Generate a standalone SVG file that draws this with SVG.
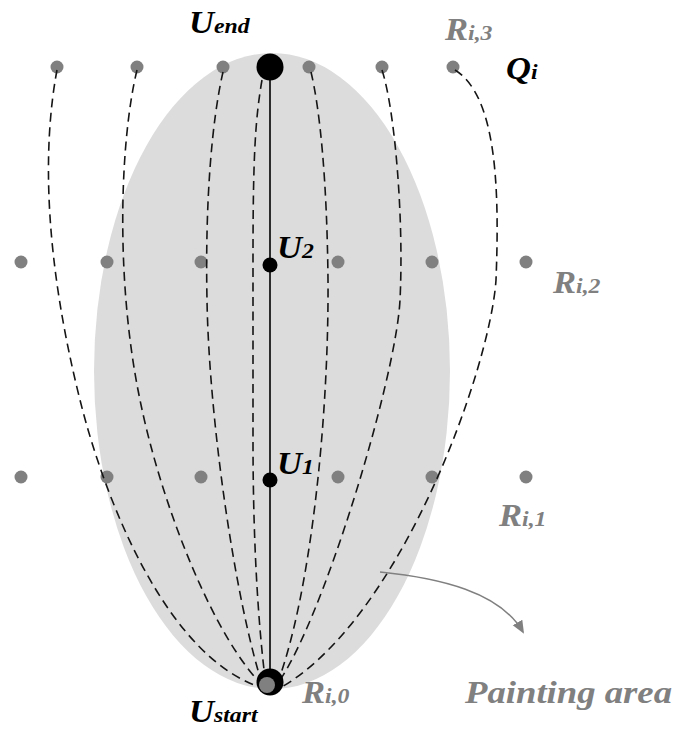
<svg xmlns="http://www.w3.org/2000/svg" width="678" height="731" viewBox="0 0 678 731">
<style>
.bg{fill:#ffffff}
.area{fill:#dcdcdc}
.g{fill:#808080}
.k{fill:#000000}
.dash{fill:none;stroke:#151515;stroke-width:1.6;stroke-dasharray:9,5.5}
.solid{fill:none;stroke:#000;stroke-width:1.6}
.arr{fill:none;stroke:#808080;stroke-width:1.4}
.lbl{font-family:"Liberation Serif","Times New Roman",serif;font-weight:bold;font-style:italic;font-size:32px}
.sub{font-size:22px}
.lk{fill:#000}
.lg{fill:#808080}
</style>
<defs>
<marker id="ah" markerWidth="14" markerHeight="12" refX="11" refY="5.5" orient="auto" markerUnits="userSpaceOnUse">
<path d="M0,0 L13,5.5 L0,11 Z" fill="#808080"/>
</marker>
</defs>
<rect class="bg" x="0" y="0" width="678" height="731"/>
<g id="painting-area"><ellipse class="area" cx="272" cy="371" rx="178" ry="318"/></g>

<g id="grid-points">
<g id="q-row3">
<circle class="g" cx="57" cy="67" r="6.5"/><circle class="g" cx="137" cy="67" r="6.5"/><circle class="g" cx="223" cy="67" r="6.5"/>
<circle class="g" cx="309" cy="67" r="6.5"/><circle class="g" cx="382" cy="67" r="6.5"/><circle class="g" cx="453" cy="67" r="6.5"/>
</g>
<g id="q-row2">
<circle class="g" cx="21" cy="262" r="6.5"/><circle class="g" cx="107" cy="262" r="6.5"/><circle class="g" cx="201" cy="262" r="6.5"/>
<circle class="g" cx="338" cy="262" r="6.5"/><circle class="g" cx="432" cy="262" r="6.5"/><circle class="g" cx="526" cy="262" r="6.5"/>
</g>
<g id="q-row1">
<circle class="g" cx="21" cy="477" r="6.5"/><circle class="g" cx="107" cy="477" r="6.5"/><circle class="g" cx="201" cy="477" r="6.5"/>
<circle class="g" cx="338" cy="477" r="6.5"/><circle class="g" cx="432" cy="477" r="6.5"/><circle class="g" cx="526" cy="477" r="6.5"/>
</g>
</g>

<g id="connectors">
<path class="dash" d="M57,70 C42,150 45,260 80,400 C107,508 170,660 263,688"/>
<path class="dash" d="M137,70 C120,140 115,280 140,400 C162,508 215,640 265,688"/>
<path class="dash" d="M223,72 C212,120 205,200 207,300 C209,420 235,600 263,687"/>
<path class="dash" d="M262,80 C255,120 253,160 253,260 L253,440 C253,560 260,640 266,686"/>
<path class="dash" d="M311,72 C320,110 327,180 328,280 C329,420 310,600 276,687"/>
<path class="dash" d="M382,70 C395,110 404,220 400,300 C396,380 320,630 275,687"/>
<path class="dash" d="M455,70 C495,95 500,180 496,280 C490,370 400,620 280,688"/>
<path class="solid" d="M270,67 L270,682"/>
<path class="arr" d="M380,572 C440,578 500,592 523,632" marker-end="url(#ah)"/>
</g>

<g id="U-end"><circle class="k" cx="270" cy="67" r="13.5"/></g>
<g id="U-2"><circle class="k" cx="270" cy="265" r="7.5"/></g>
<g id="U-1"><circle class="k" cx="270" cy="480" r="7.5"/></g>
<g id="U-start"><circle class="k" cx="270" cy="682" r="13.5"/><circle class="g" cx="267" cy="685" r="8"/></g>

<g id="labels">
<text class="lbl lk" transform="translate(189,33) scale(1.08,1)">U<tspan class="sub">end</tspan></text>
<text class="lbl lg" transform="translate(445,40) scale(1.08,1)">R<tspan class="sub">i,3</tspan></text>
<text class="lbl lk" transform="translate(506,79) scale(1.08,1)">Q<tspan class="sub">i</tspan></text>
<text class="lbl lk" transform="translate(277,258) scale(1.08,1)">U<tspan class="sub">2</tspan></text>
<text class="lbl lg" transform="translate(553,293) scale(1.08,1)">R<tspan class="sub">i,2</tspan></text>
<text class="lbl lk" transform="translate(277,474) scale(1.08,1)">U<tspan class="sub">1</tspan></text>
<text class="lbl lg" transform="translate(499,526) scale(1.08,1)">R<tspan class="sub">i,1</tspan></text>
<text class="lbl lk" transform="translate(189,722) scale(1.08,1)">U<tspan class="sub">start</tspan></text>
<text class="lbl lg" transform="translate(302,703) scale(1.08,1)">R<tspan class="sub">i,0</tspan></text>
<text class="lbl lg" x="465" y="703" textLength="207" lengthAdjust="spacingAndGlyphs">Painting area</text>
</g>
</svg>
